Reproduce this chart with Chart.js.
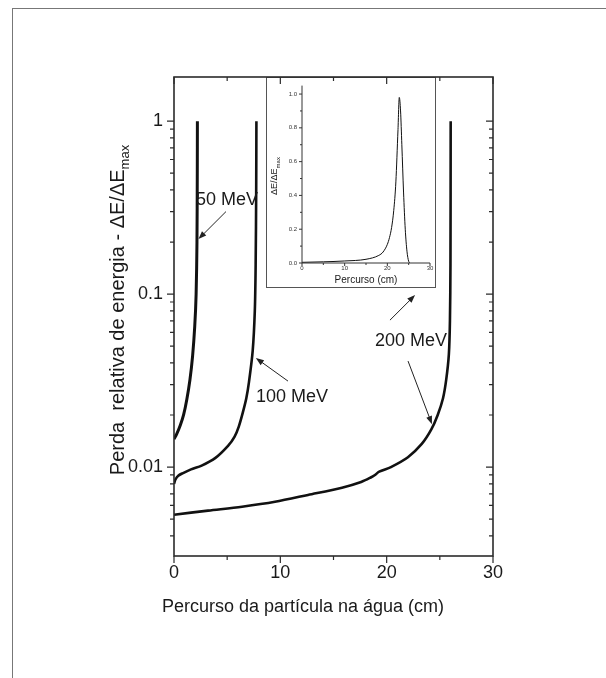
<!DOCTYPE html>
<html lang="pt">
<head>
<meta charset="UTF-8">
<title>Perda relativa de energia</title>
<script src="https://cdn.jsdelivr.net/npm/chart.js@4.4.1/dist/chart.umd.min.js"></script>
<style>
  html, body { margin: 0; padding: 0; background: #fff; }
  #wrap { position: relative; width: 606px; height: 678px; overflow: hidden; }
  #frame { position: absolute; left: 12px; top: 8px; width: 700px; height: 700px;
           border-left: 1px solid #777; border-top: 1px solid #777; }
  #main { position: absolute; left: 0; top: 0; z-index: 2; }
  #inset { position: absolute; left: 266px; top: 77px; z-index: 1; }
</style>
</head>
<body>
<div id="wrap">
  <div id="frame"></div>
  <canvas id="inset" width="170" height="211"></canvas>
  <canvas id="main" width="606" height="678"></canvas>
</div>
<script>
// curvas principais (x em cm, y = dE/dEmax)
const x50 = [0, 0.25, 0.6, 0.9, 1.2, 1.5, 1.75, 1.95, 2.08, 2.16, 2.19, 2.2];
const y50 = [0.0145, 0.0155, 0.0175, 0.020, 0.0245, 0.032, 0.044, 0.065, 0.1, 0.2, 0.5, 1.0];

const x100 = [0, 0.15, 0.4, 0.8, 1.6, 2.6, 3.9, 5.1, 5.7, 6.1, 6.5, 6.8, 7.05, 7.4, 7.6, 7.68, 7.73, 7.75];
const y100 = [0.0080, 0.0085, 0.0089, 0.0092, 0.0097, 0.0102, 0.0113, 0.0133, 0.015, 0.0172, 0.021, 0.025, 0.031, 0.047, 0.08, 0.15, 0.4, 1.0];

const x200 = [0, 3.2, 6.4, 9.5, 12.6, 15.8, 17.6, 18.5, 18.9, 19.3, 20.4, 22.0, 23.3, 24.2, 24.8, 25.3, 25.6, 25.85, 25.95, 26.0, 26.02];
const y200 = [0.0053, 0.0056, 0.0059, 0.0063, 0.0069, 0.0076, 0.0082, 0.0087, 0.0090, 0.0094, 0.0100, 0.0114, 0.0136, 0.0165, 0.020, 0.025, 0.032, 0.045, 0.07, 0.15, 1.0];

// curva do detalhe (escala linear)
const xInset = [0, 5, 10, 15, 18, 19, 20, 20.5, 21, 21.5, 22, 22.5, 22.8, 23.1, 23.4, 23.8, 24.2, 24.6, 25.0, 25.3];
const yInset = [0.004, 0.007, 0.012, 0.022, 0.045, 0.065, 0.11, 0.15, 0.21, 0.31, 0.48, 0.79, 0.98, 0.90, 0.70, 0.42, 0.20, 0.07, 0.01, 0.0];

const xTicks = [0, 10, 20, 30];
const xTickLabels = ['0', '10', '20', '30'];
const yTicks = [0.01, 0.1, 1];
const yTickLabels = ['0.01', '0.1', '1'];
const insetXTicks = [0, 10, 20, 30];
const insetYTicks = [0, 0.2, 0.4, 0.6, 0.8, 1.0];
const insetYTickLabels = ['0.0', '0.2', '0.4', '0.6', '0.8', '1.0'];

// rotulos das curvas, em coordenadas de dados
const labels = [
  { text: '50 MeV', x: 4.98, y: 0.349 },
  { text: '100 MeV', x: 11.1, y: 0.0254 },
  { text: '200 MeV', x: 22.29, y: 0.0535 }
];
const arrows = [
  { from: [4.89, 0.30], to: [2.3, 0.208] },
  { from: [10.72, 0.0314], to: [7.7, 0.0427] },
  { from: [20.31, 0.0707], to: [22.67, 0.0987] },
  { from: [22.01, 0.041], to: [24.26, 0.0177] }
];

const FONT = '"Liberation Sans", Arial, Helvetica, sans-serif';
const INK = '#1a1a1a';

const toPoints = (xs, ys) => xs.map((v, i) => ({ x: v, y: ys[i] }));

function curve(xs, ys, w) {
  return {
    data: toPoints(xs, ys),
    borderColor: '#111',
    borderWidth: w,
    pointRadius: 0,
    tension: 0.3,
    fill: false
  };
}

function drawArrow(ctx, x1, y1, x2, y2) {
  const a = Math.atan2(y2 - y1, x2 - x1);
  const len = 8, half = 3;
  ctx.beginPath();
  ctx.moveTo(x1, y1);
  ctx.lineTo(x2 - Math.cos(a) * len * 0.6, y2 - Math.sin(a) * len * 0.6);
  ctx.stroke();
  ctx.beginPath();
  ctx.moveTo(x2, y2);
  ctx.lineTo(x2 - Math.cos(a) * len - Math.sin(a) * half, y2 - Math.sin(a) * len + Math.cos(a) * half);
  ctx.lineTo(x2 - Math.cos(a) * len + Math.sin(a) * half, y2 - Math.sin(a) * len - Math.cos(a) * half);
  ctx.closePath();
  ctx.fill();
}

// moldura, marcas de escala, titulos e anotacoes do grafico principal
const mainDecor = {
  id: 'mainDecor',
  afterDraw(chart) {
    const { ctx, chartArea: a } = chart;
    const x = chart.scales.x, y = chart.scales.y;
    ctx.save();
    ctx.strokeStyle = '#2b2b2b';
    ctx.lineWidth = 1.6;
    ctx.strokeRect(a.left, a.top, a.right - a.left, a.bottom - a.top);

    ctx.lineWidth = 1.2;
    ctx.beginPath();
    for (let v = 0; v <= 30; v += 5) {
      const len = v % 10 === 0 ? 7 : 4;
      const px = x.getPixelForValue(v);
      ctx.moveTo(px, a.bottom); ctx.lineTo(px, a.bottom + len);
      ctx.moveTo(px, a.top); ctx.lineTo(px, a.top + len);
    }
    for (const d of [0.001, 0.01, 0.1, 1]) {
      for (let m = 1; m <= 9; m++) {
        const v = d * m;
        if (v < y.min || v > y.max) continue;
        const len = m === 1 ? 7 : 4;
        const py = y.getPixelForValue(v);
        ctx.moveTo(a.left, py); ctx.lineTo(a.left - len, py);
        ctx.moveTo(a.right, py); ctx.lineTo(a.right - len, py);
      }
    }
    ctx.stroke();

    // titulos dos eixos
    ctx.fillStyle = INK;
    ctx.font = '18px ' + FONT;
    ctx.textAlign = 'center';
    ctx.textBaseline = 'middle';
    ctx.fillText('Percurso da partícula na água (cm)', 303, 607);

    ctx.save();
    ctx.translate(118, 310);
    ctx.rotate(-Math.PI / 2);
    const main = 'Perda  relativa de energia - ΔE/ΔE';
    ctx.font = '20px ' + FONT;
    const w1 = ctx.measureText(main).width;
    ctx.font = '13px ' + FONT;
    const w2 = ctx.measureText('max').width;
    const start = -(w1 + w2) / 2;
    ctx.textAlign = 'left';
    ctx.font = '20px ' + FONT;
    ctx.fillText(main, start, 0);
    ctx.font = '13px ' + FONT;
    ctx.fillText('max', start + w1, 7);
    ctx.restore();

    // rotulos e setas
    ctx.font = '18px ' + FONT;
    ctx.textAlign = 'center';
    for (const l of labels) {
      ctx.fillText(l.text, x.getPixelForValue(l.x), y.getPixelForValue(l.y));
    }
    ctx.strokeStyle = '#222';
    ctx.fillStyle = '#222';
    ctx.lineWidth = 1;
    for (const ar of arrows) {
      drawArrow(ctx,
        x.getPixelForValue(ar.from[0]), y.getPixelForValue(ar.from[1]),
        x.getPixelForValue(ar.to[0]), y.getPixelForValue(ar.to[1]));
    }
    ctx.restore();
  }
};

new Chart(document.getElementById('main'), {
  type: 'line',
  data: {
    datasets: [curve(x50, y50, 3), curve(x100, y100, 2.6), curve(x200, y200, 2.6)]
  },
  options: {
    responsive: false,
    animation: false,
    events: [],
    layout: { padding: { left: 0, top: 77, right: 113, bottom: 0 } },
    plugins: { legend: { display: false }, tooltip: { enabled: false } },
    scales: {
      x: {
        type: 'linear',
        min: 0,
        max: 30,
        grid: { display: false, drawTicks: false },
        border: { display: false },
        afterBuildTicks: s => { s.ticks = xTicks.map(v => ({ value: v })); },
        ticks: {
          callback: (v, i) => xTickLabels[i],
          font: { family: FONT, size: 18 },
          color: INK,
          padding: 6,
          maxRotation: 0
        },
        afterFit: s => { s.height = 122; }
      },
      y: {
        type: 'logarithmic',
        min: 0.00306,
        max: 1.8,
        grid: { display: false, drawTicks: false },
        border: { display: false },
        afterBuildTicks: s => { s.ticks = yTicks.map(v => ({ value: v })); },
        ticks: {
          callback: (v, i) => yTickLabels[i],
          font: { family: FONT, size: 18 },
          color: INK,
          padding: 11
        },
        afterFit: s => { s.width = 174; }
      }
    }
  },
  plugins: [mainDecor]
});

// grafico de detalhe
const insetDecor = {
  id: 'insetDecor',
  beforeDraw(chart) {
    const ctx = chart.ctx;
    ctx.save();
    ctx.fillStyle = '#fff';
    ctx.fillRect(0, 0, chart.width, chart.height);
    ctx.strokeStyle = '#555';
    ctx.lineWidth = 1;
    ctx.strokeRect(0.5, 0.5, chart.width - 1, chart.height - 1);
    ctx.restore();
  },
  afterDraw(chart) {
    const { ctx, chartArea: a } = chart;
    const x = chart.scales.x, y = chart.scales.y;
    ctx.save();
    ctx.strokeStyle = '#333';
    ctx.lineWidth = 1;
    ctx.beginPath();
    ctx.moveTo(a.left, a.top); ctx.lineTo(a.left, a.bottom); ctx.lineTo(a.right, a.bottom);
    for (let v = 0; v <= 30; v += 5) {
      const px = x.getPixelForValue(v);
      ctx.moveTo(px, a.bottom); ctx.lineTo(px, a.bottom + (v % 10 === 0 ? 3 : 2));
    }
    for (let k = 0; k <= 10; k++) {
      const py = y.getPixelForValue(k / 10);
      ctx.moveTo(a.left, py); ctx.lineTo(a.left - (k % 2 === 0 ? 3 : 2), py);
    }
    ctx.stroke();

    ctx.fillStyle = INK;
    ctx.textAlign = 'center';
    ctx.textBaseline = 'middle';
    ctx.font = '10px ' + FONT;
    ctx.fillText('Percurso (cm)', (a.left + a.right) / 2, 203);

    ctx.save();
    ctx.translate(9, 99);
    ctx.rotate(-Math.PI / 2);
    ctx.font = '9px ' + FONT;
    const w1 = ctx.measureText('ΔE/ΔE').width;
    ctx.font = '6px ' + FONT;
    const w2 = ctx.measureText('max').width;
    const start = -(w1 + w2) / 2;
    ctx.textAlign = 'left';
    ctx.font = '9px ' + FONT;
    ctx.fillText('ΔE/ΔE', start, 0);
    ctx.font = '6px ' + FONT;
    ctx.fillText('max', start + w1, 3);
    ctx.restore();
    ctx.restore();
  }
};

new Chart(document.getElementById('inset'), {
  type: 'line',
  data: {
    datasets: [{
      data: toPoints(xInset, yInset),
      borderColor: '#111',
      borderWidth: 1,
      pointRadius: 0,
      cubicInterpolationMode: 'monotone',
      fill: false
    }]
  },
  options: {
    responsive: false,
    animation: false,
    events: [],
    layout: { padding: { left: 0, top: 5, right: 6, bottom: 0 } },
    plugins: { legend: { display: false }, tooltip: { enabled: false } },
    scales: {
      x: {
        type: 'linear',
        min: 0,
        max: 30,
        grid: { display: false, drawTicks: false },
        border: { display: false },
        afterBuildTicks: s => { s.ticks = insetXTicks.map(v => ({ value: v })); },
        ticks: { font: { family: FONT, size: 6 }, color: '#333', padding: 2, maxRotation: 0 },
        afterFit: s => { s.height = 25; }
      },
      y: {
        type: 'linear',
        min: 0,
        max: 1.05,
        grid: { display: false, drawTicks: false },
        border: { display: false },
        afterBuildTicks: s => { s.ticks = insetYTicks.map(v => ({ value: v })); },
        ticks: {
          callback: (v, i) => insetYTickLabels[i],
          font: { family: FONT, size: 6 },
          color: '#333',
          padding: 5
        },
        afterFit: s => { s.width = 36; }
      }
    }
  },
  plugins: [insetDecor]
});
</script>
</body>
</html>
